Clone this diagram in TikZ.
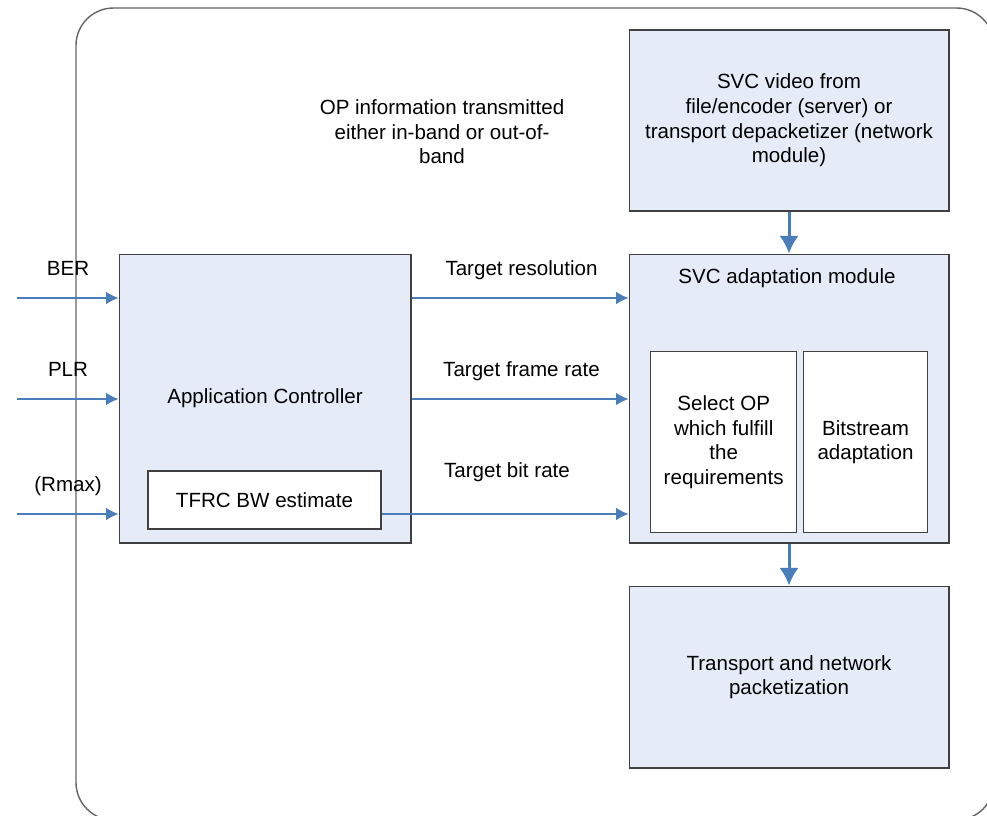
\documentclass[tikz,border=0pt]{standalone}
\usepackage{fontspec}
\setmainfont{Liberation Sans}
\usetikzlibrary{arrows.meta}

\definecolor{boxfill}{HTML}{E6ECF7}
\definecolor{boxline}{HTML}{404040}
\definecolor{flowblue}{HTML}{4A7EBB}

\tikzset{
	box/.style={draw=boxline,fill=boxfill,line width=0.6pt,inner sep=0pt,align=center},
	inbox/.style={draw=boxline,fill=white,line width=0.6pt,inner sep=0pt,align=center},
	flow/.style={draw=flowblue,line width=0.6pt,-{Latex[length=7pt,width=7pt]}},
	bigflow/.style={draw=flowblue,line width=1.7pt,-{Latex[length=10pt,width=11pt]}},
	lbl/.style={inner sep=0pt,align=center},
}

\begin{document}
\begin{tikzpicture}[x=0.02cm,y=-0.02cm,font=\fontsize{11.7}{14}\selectfont]
			\useasboundingbox (0,0) rectangle (987,815);
			\draw[boxline!80,line width=0.8pt,rounded corners=0.75cm] (76,8) rectangle (994,820);

			\node[box,minimum width=5.84cm,minimum height=5.78cm] (app) at (265,398.5) {Application Controller};
			\node[inbox,minimum width=4.66cm,minimum height=1.16cm] (tfrc) at (264.5,500) {TFRC BW estimate};

			\node[box,minimum width=6.4cm,minimum height=3.62cm] (video) at (789,120.5) {SVC video from\\file/encoder (server) or\\transport depacketizer (network\\module)};
			\node[box,minimum width=6.4cm,minimum height=5.78cm] (adapt) at (789,398.5) {};
			\node[lbl] (adapttxt) at (787,278) {SVC adaptation module};
			\node[inbox,minimum width=2.92cm,minimum height=3.62cm] (select) at (723.7,442.2) {Select OP\\which fulfill\\the\\requirements};
			\node[inbox,minimum width=2.47cm,minimum height=3.62cm] (bitstream) at (865.5,442.2) {Bitstream\\adaptation};
			\node[box,minimum width=6.4cm,minimum height=3.64cm] (transport) at (789,677) {Transport and network\\packetization};

			\node[lbl] (opinfo) at (442,132) {OP information transmitted\\either in-band or out-of-\\band};

			\coordinate (ber) at (17,298);
			\coordinate (plr) at (17,399);
			\coordinate (rmax) at (17,514);
			\node[lbl,anchor=base] (berlbl) at (68,275) {BER};
			\node[lbl,anchor=base] (plrlbl) at (68,376) {PLR};
			\node[lbl,anchor=base] (rmaxlbl) at (68,491) {(Rmax)};
			\node[lbl,anchor=base] (reslbl) at (521.5,275) {Target resolution};
			\node[lbl,anchor=base] (fpslbl) at (521.5,376.5) {Target frame rate};
			\node[lbl,anchor=base] (bitlbl) at (507,477.5) {Target bit rate};

			\draw[flow] (ber) -- (ber -| app.west);
			\draw[flow] (plr) -- (plr -| app.west);
			\draw[flow] (rmax) -- (rmax -| app.west);

			\draw[flow] (app.east |- ber) -- (adapt.west |- ber);
			\draw[flow] (app.east |- plr) -- (adapt.west |- plr);
			\draw[flow] (tfrc.east |- rmax) -- (adapt.west |- rmax);

			\draw[bigflow] (video.south) -- (adapt.north);
			\draw[bigflow] (adapt.south) -- (transport.north);
\end{tikzpicture}
\end{document}
